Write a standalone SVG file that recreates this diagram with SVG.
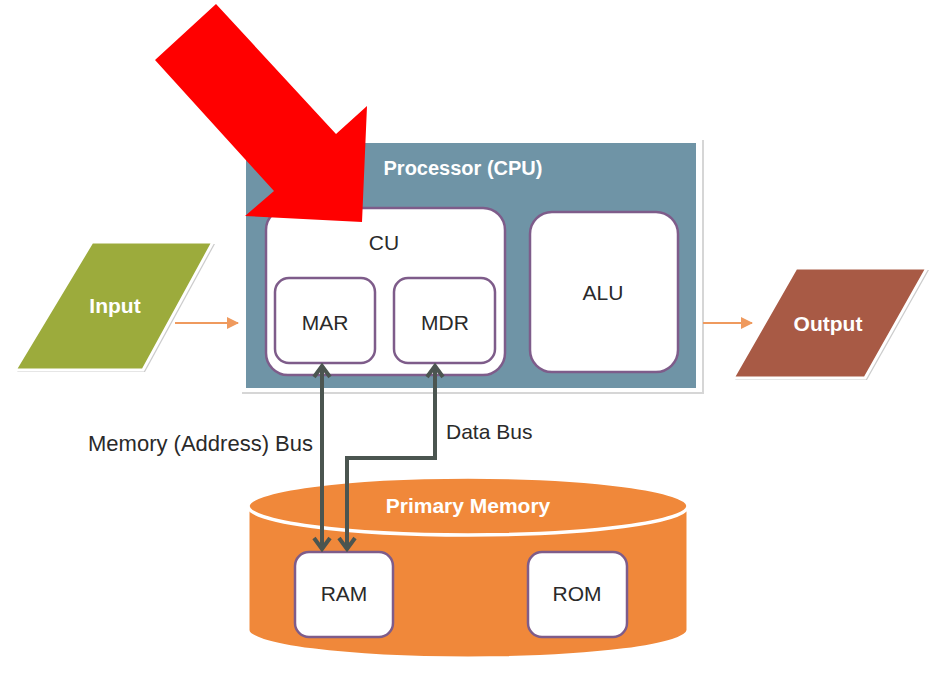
<svg xmlns="http://www.w3.org/2000/svg" width="951" height="689" viewBox="0 0 951 689">
<defs>
<style>
.box{fill:#ffffff;stroke:#7e5c8a;stroke-width:2.5}
.t{font-family:"Liberation Sans",Arial,sans-serif;font-size:21px;fill:#2a2a2a;text-anchor:middle;dominant-baseline:central}
.tb{font-family:"Liberation Sans",Arial,sans-serif;font-size:21px;font-weight:bold;fill:#ffffff;text-anchor:middle;dominant-baseline:central}
.bus{fill:none;stroke:#4b5550;stroke-width:4;marker-start:url(#chev);marker-end:url(#chev)}
.io{fill:none;stroke:#ef9a5e;stroke-width:2;marker-end:url(#tri)}
</style>
<marker id="chev" markerUnits="userSpaceOnUse" markerWidth="16" markerHeight="20" viewBox="0 0 16 20" refX="13" refY="10" orient="auto-start-reverse">
<path d="M2,2 L13,10 L2,18" fill="none" stroke="#4b5550" stroke-width="4" stroke-linejoin="miter"/>
</marker>
<marker id="tri" markerUnits="userSpaceOnUse" markerWidth="12" markerHeight="12" viewBox="0 0 12 12" refX="11" refY="6" orient="auto">
<path d="M0,0 L12,6 L0,12 Z" fill="#ef9a5e"/>
</marker>
</defs>
<rect width="951" height="689" fill="#ffffff"/>

<g id="input">
<polygon points="94,244 215,244 145,372 17,372" fill="#cccccc"/>
<polygon points="92,242 213,242 143,370 15,370" fill="#9cab3c" stroke="#ffffff" stroke-width="3"/>
<text class="tb" x="115" y="305">Input</text>
</g>

<g id="cpu">
<rect x="242" y="140" width="462" height="254" fill="#d6d6d6"/>
<rect x="240" y="138" width="462" height="254" fill="#ffffff"/>
<rect x="246" y="143" width="450" height="245" fill="#6f94a6"/>
<text class="tb" x="463" y="168" style="font-size:20px">Processor (CPU)</text>
</g>

<g id="cu">
<rect class="box" x="266" y="208" width="239" height="167" rx="22"/>
<text class="t" x="384" y="242">CU</text>
</g>

<g id="mar">
<rect class="box" x="275" y="278" width="100" height="85" rx="14"/>
<text class="t" x="325" y="322">MAR</text>
</g>

<g id="mdr">
<rect class="box" x="394" y="278" width="101" height="85" rx="14"/>
<text class="t" x="445" y="322">MDR</text>
</g>

<g id="alu">
<rect class="box" x="530" y="212" width="148" height="160" rx="22"/>
<text class="t" x="603" y="292">ALU</text>
</g>

<g id="output">
<polygon points="798,270 929,270 867,380 735,380" fill="#cccccc"/>
<polygon points="796,268 927,268 865,378 733,378" fill="#a85a45" stroke="#ffffff" stroke-width="3"/>
<text class="tb" x="828" y="323">Output</text>
</g>

<g id="primary-memory">
<path d="M248,506 L248,630 A220,28 0 0 0 688,630 L688,506 Z" fill="#f0883a" stroke="#ffffff" stroke-width="3"/>
<ellipse cx="468" cy="506" rx="220" ry="29" fill="#f0883a" stroke="#ffffff" stroke-width="3.5"/>
<text class="tb" x="468" y="505">Primary Memory</text>
</g>

<g id="ram">
<rect class="box" x="295" y="552" width="98" height="85" rx="14"/>
<text class="t" x="344" y="593">RAM</text>
</g>

<g id="rom">
<rect class="box" x="528" y="552" width="99" height="85" rx="14"/>
<text class="t" x="577" y="593">ROM</text>
</g>

<g id="connectors">
<line class="io" x1="175" y1="323" x2="238" y2="323"/>
<line class="io" x1="703" y1="323" x2="752" y2="323"/>
<polyline class="bus" points="322,366 322,549"/>
<polyline class="bus" points="435,366 435,458 347,458 347,549"/>
<text class="t" x="313" y="443" style="text-anchor:end;font-size:22px">Memory (Address) Bus</text>
<text class="t" x="446" y="431" style="text-anchor:start">Data Bus</text>
</g>

<g id="red-arrow">
<polygon points="216,4 336,134 367,106 362,222 245,216 274,191 155,60" fill="#ff0000"/>
</g>
</svg>
